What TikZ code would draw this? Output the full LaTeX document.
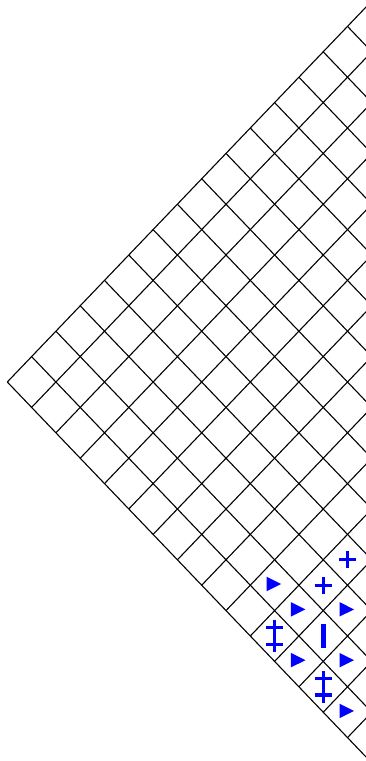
\documentclass[tikz,border=0pt]{standalone}
\usetikzlibrary{calc}
\definecolor{mk}{RGB}{0,0,255}
\tikzset{
  gridline/.style={black, line width=1.1pt},
  mkfill/.style={fill=mk, draw=none},
  mkline/.style={draw=mk, line width=3.2pt},
}
\begin{document}
\begin{tikzpicture}
\useasboundingbox (0,0) rectangle (366pt,761pt);
\clip (0,0) rectangle (366pt,761pt);
\begin{scope}[shift={(7.3pt,379pt)}, x={(24.3pt,25.4pt)}, y={(24.3pt,-25.4pt)}]
  \foreach \k in {0,...,15} {
    \draw[gridline] (\k,0) -- (\k,15);
    \draw[gridline] (0,\k) -- (15,\k);
  }
  \foreach \u/\v in {3/10,2/10,1/9,1/10,2/11,0/11,1/12,0/13,0/10,0/12,1/11}
    \coordinate (c-\u-\v) at (\u+0.5,\v+0.5);
\end{scope}
% triangles
\foreach \c in {c-1-9,c-1-10,c-2-11,c-0-11,c-1-12,c-0-13}
  \fill[mk] ($(\c)+(-8pt,8.5pt)$) -- ($(\c)+(6.5pt,1.2pt)$) -- ($(\c)+(-8pt,-6pt)$) -- cycle;
% plus signs
\foreach \c in {c-3-10,c-2-10} {
  \draw[mkline] ($(\c)+(-8.5pt,0)$) -- ($(\c)+(8.5pt,0)$);
  \draw[mkline] ($(\c)+(0,-8.5pt)$) -- ($(\c)+(0,8.5pt)$);
}
% double daggers
\foreach \c in {c-0-10,c-0-12} {
  \draw[mkline] ($(\c)+(0,-16pt)$) -- ($(\c)+(0,16pt)$);
  \draw[mkline] ($(\c)+(-8.5pt,8.3pt)$) -- ($(\c)+(8.5pt,8.3pt)$);
  \draw[mkline] ($(\c)+(-8.5pt,-8.3pt)$) -- ($(\c)+(8.5pt,-8.3pt)$);
}
% vertical bar
\draw[draw=mk, line width=4.6pt] ($(c-1-11)+(0,-12pt)$) -- ($(c-1-11)+(0,12pt)$);
\end{tikzpicture}
\end{document}
